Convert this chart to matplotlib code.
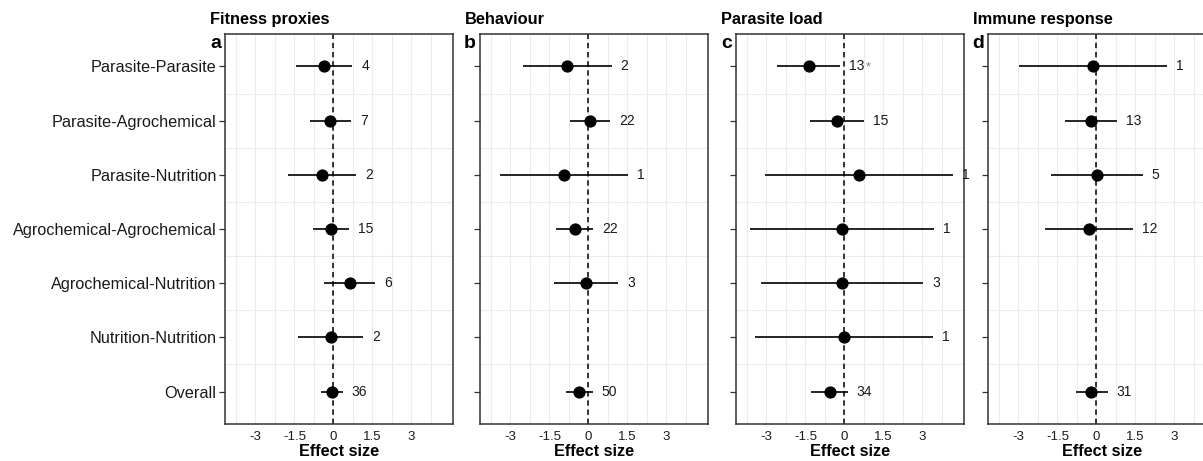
import numpy as np
import matplotlib
matplotlib.use("Agg")
import matplotlib.pyplot as plt

plt.rcParams['font.family'] = ['Liberation Sans', 'DejaVu Sans']

nan = np.nan

categories = ["Parasite-Parasite", "Parasite-Agrochemical", "Parasite-Nutrition",
              "Agrochemical-Agrochemical", "Agrochemical-Nutrition",
              "Nutrition-Nutrition", "Overall"]

fitness_est = [-0.35, -0.12, -0.42, -0.08, 0.62, -0.10, -0.05]
fitness_lo = [-1.42, -0.91, -1.75, -0.78, -0.37, -1.36, -0.49]
fitness_hi = [0.73, 0.67, 0.88, 0.60, 1.60, 1.14, 0.36]
fitness_n = ["4", "7", "2", "15", "6", "2", "36"]

behaviour_est = [-0.83, 0.08, -0.94, -0.53, -0.09, nan, -0.37]
behaviour_lo = [-2.52, -0.70, -3.41, -1.26, -1.31, nan, -0.86]
behaviour_hi = [0.89, 0.83, 1.52, 0.19, 1.15, nan, 0.17]
behaviour_n = ["2", "22", "1", "22", "3", "", "50"]

parasite_est = [-1.38, -0.28, 0.56, -0.09, -0.09, 0.00, -0.56]
parasite_lo = [-2.59, -1.31, -3.04, -3.62, -3.20, -3.45, -1.28]
parasite_hi = [-0.18, 0.77, 4.18, 3.43, 3.03, 3.41, 0.13]
parasite_n = ["13", "15", "1", "1", "3", "1", "34"]
parasite_mark = ["*", "", "", "", "", "", ""]

immune_est = [-0.12, -0.19, 0.04, -0.30, nan, nan, -0.19]
immune_lo = [-2.97, -1.19, -1.73, -1.96, nan, nan, -0.80]
immune_hi = [2.72, 0.81, 1.78, 1.39, nan, nan, 0.43]
immune_n = ["1", "13", "5", "12", "", "", "31"]

panels = [
    ("a", "Fitness proxies", fitness_est, fitness_lo, fitness_hi, fitness_n, None),
    ("b", "Behaviour", behaviour_est, behaviour_lo, behaviour_hi, behaviour_n, None),
    ("c", "Parasite load", parasite_est, parasite_lo, parasite_hi, parasite_n, parasite_mark),
    ("d", "Immune response", immune_est, immune_lo, immune_hi, immune_n, None),
]

W, H = 1203, 461
fig = plt.figure(figsize=(W / 100, H / 100), dpi=100)

panel_lefts = [225, 480, 736, 988]
panel_w = 228
panel_top, panel_bottom = 34, 424

x_ticks = [-3, -1.5, 0, 1.5, 3]
x_grid = np.arange(-3.75, 3.76, 0.75)
y_pos = np.arange(len(categories))

for i, (tag, title, est, lo, hi, counts, marks) in enumerate(panels):
    left = panel_lefts[i]
    ax = fig.add_axes([left / W, (H - panel_bottom) / H, panel_w / W, (panel_bottom - panel_top) / H])
    ax.set_xlim(-4.17, 4.6)
    ax.set_ylim(len(categories) - 0.4, -0.6)

    # light grid: vertical every 0.75, horizontal between the categories
    for gx in x_grid:
        ax.axvline(gx, color="#EBEBEB", lw=0.8, zorder=0)
    for gy in y_pos[:-1] + 0.5:
        ax.axhline(gy, color="#EBEBEB", lw=0.8, zorder=0)
    ax.axvline(0, color="black", lw=1.1, dashes=(3.5, 2.5), zorder=1)

    est = np.array(est, dtype=float)
    lo = np.array(lo, dtype=float)
    hi = np.array(hi, dtype=float)
    for j in range(len(categories)):
        if np.isnan(est[j]):
            continue
        ax.hlines(y_pos[j], lo[j], hi[j], color="black", lw=1.2, zorder=2)
        ax.plot(est[j], y_pos[j], "o", color="black", ms=7.8, zorder=3)
        txt = ax.annotate(counts[j], xy=(hi[j], y_pos[j]), xytext=(6.5, 0),
                          textcoords="offset points", ha="left", va="center",
                          fontsize=10, color="#1a1a1a", zorder=4)
        if marks is not None and marks[j]:
            ax.annotate(marks[j], xy=(1, 0.5), xycoords=txt, xytext=(1.2, -1),
                        textcoords="offset points", ha="left", va="center",
                        fontsize=9, color="#808080", zorder=4)

    ax.set_xticks(x_ticks)
    ax.set_xticklabels(["-3", "-1.5", "0", "1.5", "3"])
    ax.set_yticks(y_pos)
    if i == 0:
        ax.set_yticklabels(categories)
    else:
        ax.set_yticklabels([])
    ax.tick_params(axis="x", length=0, pad=5, labelsize=9.5, labelcolor="#1a1a1a")
    ax.tick_params(axis="y", length=4, width=0.9, color="#333333", pad=2,
                   labelsize=11.7, labelcolor="#1a1a1a")
    for sp in ax.spines.values():
        sp.set_color("#333333")
        sp.set_linewidth(1.1)
    ax.set_xlabel("Effect size", fontsize=11.7, fontweight="bold", labelpad=1)

    fig.text((left - 4) / W, (H - 48) / H, tag, ha="right", va="baseline",
             fontsize=14, fontweight="bold")
    fig.text((left - 15) / W, (H - 24) / H, title, ha="left", va="baseline",
             fontsize=11.8, fontweight="bold")

fig.savefig("out.png", dpi=100)
